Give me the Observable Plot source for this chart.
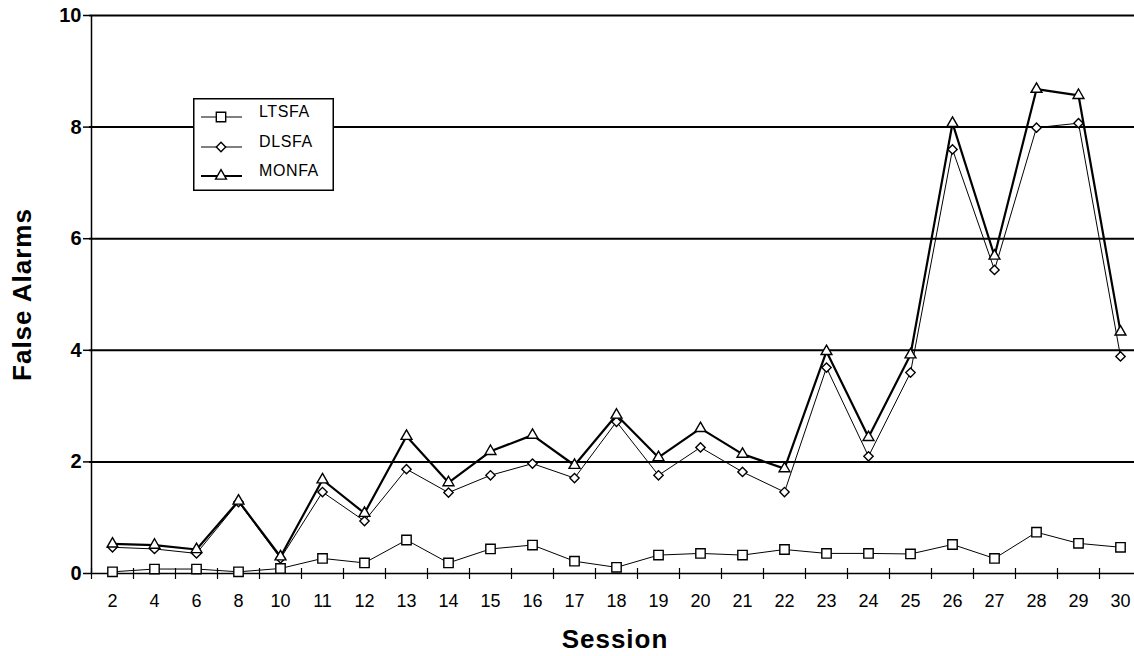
<!DOCTYPE html>
<html><head><meta charset="utf-8">
<script src="https://cdn.jsdelivr.net/npm/d3@7"></script>
<script src="https://cdn.jsdelivr.net/npm/@observablehq/plot@0.6"></script>
<style>
body{margin:0;background:#fff;}
#wrap{position:relative;width:1134px;height:656px;overflow:hidden;}
#legend{position:absolute;left:193px;top:98px;}
g[aria-label="y-axis tick label"] text{font-size:20px;font-weight:bold;}
g[aria-label="x-axis tick label"] text{font-size:18px;}
</style></head><body><div id="wrap"></div>
<script>
const sessions = ["2","4","6","8","10","11","12","13","14","15","16","17","18","19","20","21","22","23","24","25","26","27","28","29","30"];
const ltsfa = [0.03,0.08,0.08,0.03,0.09,0.27,0.19,0.60,0.19,0.44,0.51,0.22,0.11,0.33,0.36,0.33,0.43,0.36,0.36,0.35,0.52,0.27,0.74,0.54,0.47];
const dlsfa = [0.47,0.44,0.36,1.28,0.27,1.46,0.94,1.87,1.45,1.76,1.97,1.71,2.72,1.76,2.26,1.82,1.46,3.69,2.10,3.60,7.60,5.44,7.99,8.07,3.89];
const monfa = [0.53,0.51,0.43,1.30,0.30,1.68,1.08,2.46,1.63,2.19,2.48,1.94,2.84,2.08,2.60,2.14,1.88,3.98,2.44,3.92,8.07,5.69,8.68,8.57,4.33];
const yTicks = [0,2,4,6,8,10];
const gridValues = [2,4,6,8,10];
const seriesNames = ["LTSFA","DLSFA","MONFA"];
const yTitle = "False Alarms";
const xTitle = "Session";

const rows = sessions.map((s,i)=>({session:s, LTSFA:ltsfa[i], DLSFA:dlsfa[i], MONFA:monfa[i]}));
const font = "'Liberation Sans', Arial, Helvetica, sans-serif";
const styles = {
  LTSFA:{symbol:"square", r:5.3, lw:1},
  DLSFA:{symbol:"diamond2", r:4.2, lw:1},
  MONFA:{symbol:"triangle2", r:5.2, lw:2.2}
};

const seriesMarks = seriesNames.flatMap(name => [
  Plot.line(rows,{x:"session", y:name, stroke:"#000", strokeWidth:styles[name].lw}),
  Plot.dot(rows,{x:"session", y:name, symbol:styles[name].symbol, r:styles[name].r, fill:"#fff", stroke:"#000", strokeWidth:1.4})
]);

const chart = Plot.plot({
  width:1134, height:656, marginTop:15, marginBottom:83, marginLeft:89, marginRight:0,
  style:{fontFamily:font, background:"#fff", color:"#000", overflow:"hidden"},
  x:{type:"point", domain:sessions, range:[110,1121], padding:0},
  y:{domain:[0,10]},
  marks:[
    Plot.ruleY(gridValues,{stroke:"#000", strokeWidth:2}),
    Plot.ruleY([0],{stroke:"#000", strokeWidth:1.5}),
    Plot.ruleX([sessions[0]],{dx:-21, stroke:"#000", strokeWidth:1.5}),
    Plot.axisY({ticks:yTicks, tickSize:6, tickPadding:2, fontSize:20, fontWeight:"bold", label:null, strokeWidth:1.5}),
    Plot.axisX({ticks:sessions, tickSize:11, dy:-5, dx:-21, tickFormat:()=>"", label:null, strokeWidth:1.2}),
    Plot.axisX({ticks:sessions, tickSize:0, tickPadding:21, fontSize:18, label:null}),
    ...seriesMarks,
    Plot.text([yTitle],{frameAnchor:"left", textAnchor:"middle", dx:-67, rotate:-90, fontSize:26, fontWeight:"bold", text:d=>d}),
    Plot.text([xTitle],{frameAnchor:"bottom", textAnchor:"middle", dy:74, dx:3, fontSize:26, fontWeight:"bold", text:d=>d})
  ]
});
chart.querySelectorAll("text").forEach(t=>{ if (t.textContent===xTitle || t.textContent===yTitle) t.setAttribute("letter-spacing","1"); });
chart.querySelectorAll('g[aria-label="y-axis tick label"]').forEach(g=>{ g.setAttribute("font-size","20"); g.setAttribute("font-weight","bold"); });
chart.querySelectorAll('g[aria-label="x-axis tick label"]').forEach(g=>{ g.setAttribute("font-size","18"); });
document.getElementById("wrap").appendChild(chart);

// legend
const lw = 141, lh = 93;
const leg = d3.select("#wrap").append("svg").attr("id","legend").attr("width",lw).attr("height",lh);
leg.append("rect").attr("x",0.75).attr("y",0.75).attr("width",lw-1.5).attr("height",lh-1.5).attr("fill","#fff").attr("stroke","#000").attr("stroke-width",1.5);
const symMap = {square:d3.symbolSquare, diamond2:d3.symbolDiamond2, triangle2:d3.symbolTriangle2};
const rowY = [19,49,78];
seriesNames.forEach((name,i)=>{
  const st = styles[name];
  const g = leg.append("g").attr("transform",`translate(0,${rowY[i]})`);
  g.append("line").attr("x1",8).attr("x2",49).attr("stroke","#000").attr("stroke-width",st.lw);
  g.append("path").attr("transform","translate(28,0)")
    .attr("d",d3.symbol(symMap[st.symbol], st.r*st.r*Math.PI)())
    .attr("fill","#fff").attr("stroke","#000").attr("stroke-width",1.4);
  g.append("text").attr("x",66).attr("y",0).attr("font-family",font).attr("font-size",16)
    .attr("letter-spacing",0.6).attr("fill","#000").text(name);
});
</script></body></html>
